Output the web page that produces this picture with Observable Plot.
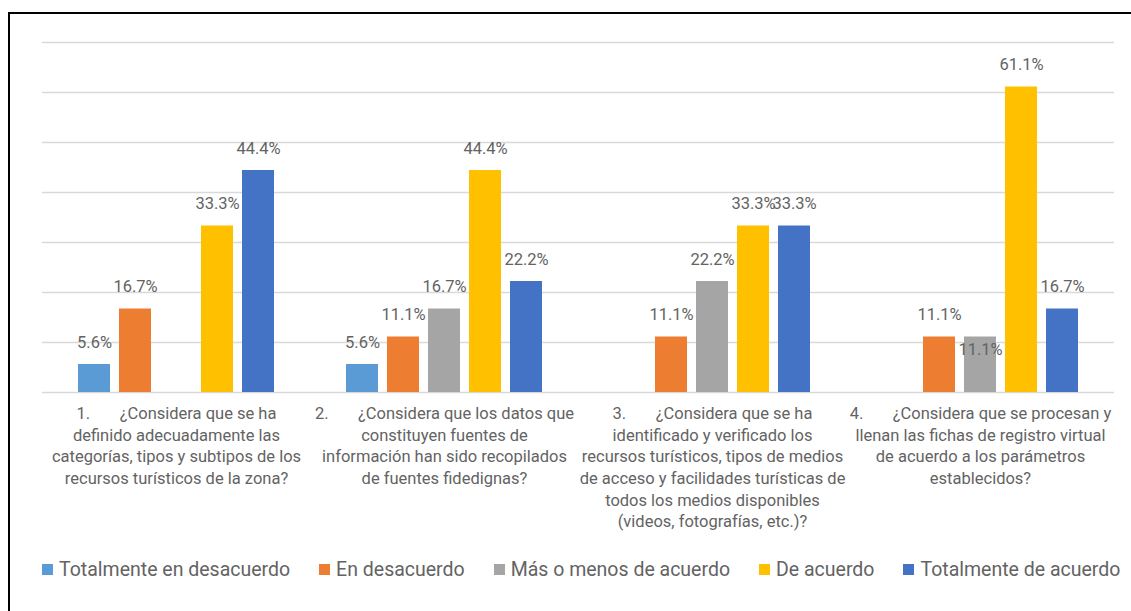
<!DOCTYPE html>
<html>
<head>
<meta charset="utf-8">
<script src="https://cdn.jsdelivr.net/npm/d3@7"></script>
<script src="https://cdn.jsdelivr.net/npm/@observablehq/plot@0.6"></script>
<style>
  body { margin: 0; background: #fff; font-family: Roboto, "Open Sans", sans-serif; }
  #wrap { position: relative; width: 1131px; height: 611px; overflow: hidden; background: #fff; }
  #chart { position: absolute; left: 0; top: 0; }
  #frame { position: absolute; left: 8px; top: 12px; width: 1200px; height: 700px;
           border-top: 2px solid #000; border-left: 2px solid #000; pointer-events: none; }
  #legend { position: absolute; left: 42px; top: 558px; display: flex; align-items: center;
            gap: 29px; font-size: 19.5px; color: #636363; white-space: nowrap; }
  #legend .item { display: flex; align-items: center; }
  #legend .sw { width: 11px; height: 11px; margin-right: 6px; }
</style>
</head>
<body>
<div id="wrap">
  <div id="chart"></div>
  <div id="legend"></div>
  <div id="frame"></div>
</div>
<script>
const categories = ["1", "2", "3", "4"];
const gap = "\u2003\u2002\u2005";
const categoryLabels = [
  "1." + gap + "¿Considera que se ha\ndefinido adecuadamente las\ncategorías, tipos y subtipos de los\nrecursos turísticos de la zona?",
  "2." + gap + "¿Considera que los datos que\nconstituyen fuentes de\ninformación han sido recopilados\nde fuentes fidedignas?",
  "3." + gap + "¿Considera que se ha\nidentificado y verificado los\nrecursos turísticos, tipos de medios\nde acceso y facilidades turísticas de\ntodos los medios disponibles\n(videos, fotografías, etc.)?",
  "4." + gap + "¿Considera que se procesan y\nllenan las fichas de registro virtual\nde acuerdo a los parámetros\nestablecidos?"
];
const series = ["Totalmente en desacuerdo", "En desacuerdo", "Más o menos de acuerdo", "De acuerdo", "Totalmente de acuerdo"];
const colors = ["#5B9BD5", "#ED7D31", "#A5A5A5", "#FFC000", "#4472C4"];
// values per category, in series order (null = no bar)
const values1 = [5.6, 16.7, null, 33.3, 44.4];
const values2 = [5.6, 11.1, 16.7, 44.4, 22.2];
const values3 = [null, 11.1, 22.2, 33.3, 33.3];
const values4 = [null, 11.1, 11.1, 61.1, 16.7];
const yTicks = [0, 10, 20, 30, 40, 50, 60, 70];
// label that the original moved below the bar top to avoid overlap
const loweredLabels = [["4", "Más o menos de acuerdo"]];

const allValues = [values1, values2, values3, values4];
const rows = [];
categories.forEach((c, i) => {
  series.forEach((s, j) => {
    const v = allValues[i][j];
    if (v != null) rows.push({cat: c, series: s, value: v});
  });
});
const isLowered = d => loweredLabels.some(([c, s]) => c === d.cat && s === d.series);
const labelMap = Object.fromEntries(categories.map((c, i) => [c, categoryLabels[i]]));
const fmt = d => d.value.toFixed(1) + "%";

const plot = Plot.plot({
  width: 1131,
  height: 545,
  marginLeft: 40,
  marginRight: 16,
  marginTop: 42,
  marginBottom: 153,
  style: {fontFamily: "Roboto, 'Open Sans', sans-serif", background: "#fff"},
  fx: {domain: categories, padding: 0, label: null, axis: null},
  x: {domain: series, paddingInner: 0.225, paddingOuter: 0.868, axis: null},
  y: {domain: [0, 70], axis: null},
  color: {domain: series, range: colors},
  marks: [
    Plot.ruleY(yTicks, {stroke: "#d9d9d9", strokeWidth: 1.5}),
    Plot.barY(rows, {fx: "cat", x: "series", y: "value", fill: "series"}),
    Plot.text(rows.filter(d => !isLowered(d)), {fx: "cat", x: "series", y: "value", text: fmt,
      dy: -22, fontSize: 16.5, fill: "#636363", lineAnchor: "middle"}),
    Plot.text(rows.filter(isLowered), {fx: "cat", x: "series", y: "value", text: fmt,
      dy: 12.5, fontSize: 16.5, fill: "#636363", lineAnchor: "middle"}),
    Plot.axisFx({anchor: "bottom", tickSize: 0, tickPadding: 11, tickFormat: d => labelMap[d], fontSize: 16.5,
      fill: "#636363", lineHeight: 1.315, label: null})
  ]
});
document.getElementById("chart").appendChild(plot);

const legend = document.getElementById("legend");
series.forEach((s, i) => {
  const item = document.createElement("div");
  item.className = "item";
  const sw = document.createElement("span");
  sw.className = "sw";
  sw.style.background = colors[i];
  const t = document.createElement("span");
  t.textContent = s;
  item.appendChild(sw);
  item.appendChild(t);
  legend.appendChild(item);
});
</script>
</body>
</html>
